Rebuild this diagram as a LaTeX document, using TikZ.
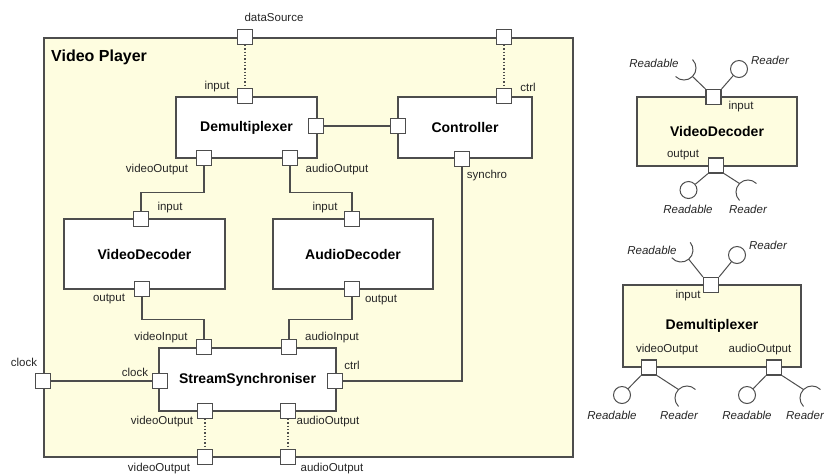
\documentclass[tikz,border=0pt]{standalone}
\usepackage{fontspec}
\setmainfont{Liberation Sans}
\usetikzlibrary{positioning}
\definecolor{vpyellow}{HTML}{FEFDE0}
\definecolor{vpline}{HTML}{4D4D4D}
\definecolor{vptext}{HTML}{262626}

\begin{document}
\begin{tikzpicture}[x=1pt,y=-1pt,
    comp/.style={draw=vpline,fill=white,line width=1.2pt,inner sep=0pt,
      font=\fontsize{14}{16}\selectfont\bfseries},
    port/.style={draw=vpline,fill=white,line width=1.2pt,minimum size=15pt,inner sep=0pt},
    plabel/.style={font=\fontsize{11.5}{13}\selectfont,text=vptext,inner sep=0pt},
    ilabel/.style={font=\fontsize{11.5}{13}\selectfont\itshape,text=vptext,inner sep=0pt},
    wire/.style={draw=vpline,line width=1.2pt},
    deleg/.style={draw=vpline,line width=1.3pt,dotted},
    ball/.style={circle,draw=vpline,fill=white,line width=1pt,minimum size=17pt,inner sep=0pt},
    socket/.style={draw=vpline,line width=1pt}
  ]
    \useasboundingbox (0,0) rectangle (824,475);

    % composite component
    \node[comp,fill=vpyellow,minimum width=529pt,minimum height=419pt] (player) at (308.5,247.5) {};
    \node[anchor=west,inner sep=0pt,font=\fontsize{16}{18}\selectfont\bfseries] (title) at (51,57) {Video Player};

    \node[comp,minimum width=141pt,minimum height=61pt] (demux) at (246.5,127.5) {Demultiplexer};
    \node[comp,minimum width=134pt,minimum height=61pt] (ctrl) at (465,127.5) {Controller};
    \node[comp,minimum width=161pt,minimum height=70pt] (vdec) at (144.5,254) {VideoDecoder};
    \node[comp,minimum width=160pt,minimum height=70pt] (adec) at (353,254) {AudioDecoder};
    \node[comp,minimum width=177pt,minimum height=63pt] (sync) at (247.5,379.5) {StreamSynchroniser};

    % ports
    \node[port] (pds) at (245,37) {};
    \node[port] (pctl) at (504,37) {};
    \node[port] (pclk) at (43,381) {};
    \node[port] (pvout) at (205,457) {};
    \node[port] (paout) at (288,457) {};
    \node[port] (dmxin) at (245,96) {};
    \node[port] (dmxctl) at (316,126) {};
    \node[port] (dmxvo) at (204,158) {};
    \node[port] (dmxao) at (290,158) {};
    \node[port] (ctlin) at (398,126) {};
    \node[port] (ctltop) at (504,96) {};
    \node[port] (ctlsyn) at (462,159) {};
    \node[port] (vdin) at (141,219) {};
    \node[port] (vdout) at (142,289) {};
    \node[port] (adin) at (352,219) {};
    \node[port] (adout) at (352,289) {};
    \node[port] (syvin) at (204,347) {};
    \node[port] (syain) at (289,347) {};
    \node[port] (syclk) at (160,381) {};
    \node[port] (syctl) at (335,381) {};
    \node[port] (syvo) at (205,411) {};
    \node[port] (syao) at (288,411) {};

    % connectors
    \draw[deleg] (pds) -- (dmxin);
    \draw[deleg] (pctl) -- (ctltop);
    \draw[deleg] (syvo) -- (pvout);
    \draw[deleg] (syao) -- (paout);
    \draw[wire] (dmxctl) -- (ctlin);
    \draw[wire] (pclk) -- (syclk);
    \draw[wire] (dmxvo.south) -- ++(0,26) -| (vdin.north);
    \draw[wire] (dmxao.south) -- ++(0,26) -| (adin.north);
    \draw[wire] (vdout.south) -- ++(0,22) -| (syvin.north);
    \draw[wire] (adout.south) -- ++(0,22) -| (syain.north);
    \draw[wire] (syctl.east) -| (ctlsyn.south);

    % port names
    \node[plabel] (lds) at (274,17) {dataSource};
    \node[plabel] (ldmxin) at (217,87) {input};
    \node[plabel] (lctltop) at (528,87) {ctrl};
    \node[plabel] (ldmxvo) at (157,170) {videoOutput};
    \node[plabel] (ldmxao) at (337,170) {audioOutput};
    \node[plabel] (lsyn) at (487,176) {synchro};
    \node[plabel] (lvdin) at (170,208) {input};
    \node[plabel] (ladin) at (325,208) {input};
    \node[plabel] (lvdout) at (109,299) {output};
    \node[plabel] (ladout) at (381,300) {output};
    \node[plabel] (lsyvin) at (161,338) {videoInput};
    \node[plabel] (lsyain) at (332,338) {audioInput};
    \node[plabel] (lpclk) at (24,362) {clock};
    \node[plabel] (lsyclk) at (135,372) {clock};
    \node[plabel] (lsyctl) at (352,365) {ctrl};
    \node[plabel] (lsyvo) at (162,422) {videoOutput};
    \node[plabel] (lsyao) at (328,422) {audioOutput};
    \node[plabel] (lpvout) at (159,469) {videoOutput};
    \node[plabel] (lpaout) at (332,469) {audioOutput};

    % VideoDecoder with its interfaces
    \node[comp,fill=vpyellow,minimum width=160pt,minimum height=69pt] (rvdec) at (717,131.5) {VideoDecoder};
    \node[port] (rvin) at (713.5,97) {};
    \node[port] (rvout) at (716,165.5) {};
    \node[ball] (rvb1) at (739,69) {};
    \coordinate (rvs1) at (692.5,76.5);
    \node[ball] (rvb2) at (688.5,190) {};
    \coordinate (rvs2) at (739.5,183.5);
    \draw[socket] (rvin.north west) -- (rvs1);
    \draw[socket] (rvin.north east) -- (rvb1);
    \draw[socket] (rvout.south west) -- (rvb2);
    \draw[socket] (rvout.south east) -- (rvs2);
    \draw[socket] (rvs1) arc[start angle=45,end angle=135,radius=12] (rvs1) arc[start angle=45,end angle=-45,radius=12];
    \draw[socket] (rvs2) arc[start angle=225,end angle=315,radius=12] (rvs2) arc[start angle=225,end angle=135,radius=12];
    \node[ilabel] (lrv1) at (654,63) {Readable};
    \node[ilabel] (lrv2) at (770,60) {Reader};
    \node[plabel] (lrvin) at (741,107) {input};
    \node[plabel] (lrvout) at (683,155) {output};
    \node[ilabel] (lrv3) at (688,209) {Readable};
    \node[ilabel] (lrv4) at (748,209) {Reader};

    % Demultiplexer with its interfaces
    \node[comp,fill=vpyellow,minimum width=178pt,minimum height=82pt] (rdmx) at (712,326) {Demultiplexer};
    \node[port] (rdin) at (711,285) {};
    \node[port] (rdvo) at (649,367.5) {};
    \node[port] (rdao) at (774,367.5) {};
    \node[ball] (rdb1) at (737,255) {};
    \coordinate (rds1) at (688.7,259.2);
    \node[ball] (rdb2) at (622,395) {};
    \coordinate (rds2) at (678.5,389.5);
    \node[ball] (rdb3) at (747,395) {};
    \coordinate (rds3) at (803.5,389.5);
    \draw[socket] (rdin.north west) -- (rds1);
    \draw[socket] (rdin.north east) -- (rdb1);
    \draw[socket] (rdvo.south west) -- (rdb2);
    \draw[socket] (rdvo.south east) -- (rds2);
    \draw[socket] (rdao.south west) -- (rdb3);
    \draw[socket] (rdao.south east) -- (rds3);
    \draw[socket] (rds1) arc[start angle=50,end angle=140,radius=12] (rds1) arc[start angle=50,end angle=-40,radius=12];
    \draw[socket] (rds2) arc[start angle=225,end angle=315,radius=12] (rds2) arc[start angle=225,end angle=135,radius=12];
    \draw[socket] (rds3) arc[start angle=225,end angle=315,radius=12] (rds3) arc[start angle=225,end angle=135,radius=12];
    \node[ilabel] (lrd1) at (652,250) {Readable};
    \node[ilabel] (lrd2) at (768,245) {Reader};
    \node[plabel] (lrdin) at (688,296) {input};
    \node[plabel] (lrdvo) at (667,350) {videoOutput};
    \node[plabel] (lrdao) at (760,350) {audioOutput};
    \node[ilabel] (lrd3) at (612,415) {Readable};
    \node[ilabel] (lrd4) at (679,415) {Reader};
    \node[ilabel] (lrd5) at (747,415) {Readable};
    \node[ilabel] (lrd6) at (805,415) {Reader};
  \end{tikzpicture}
\end{document}
